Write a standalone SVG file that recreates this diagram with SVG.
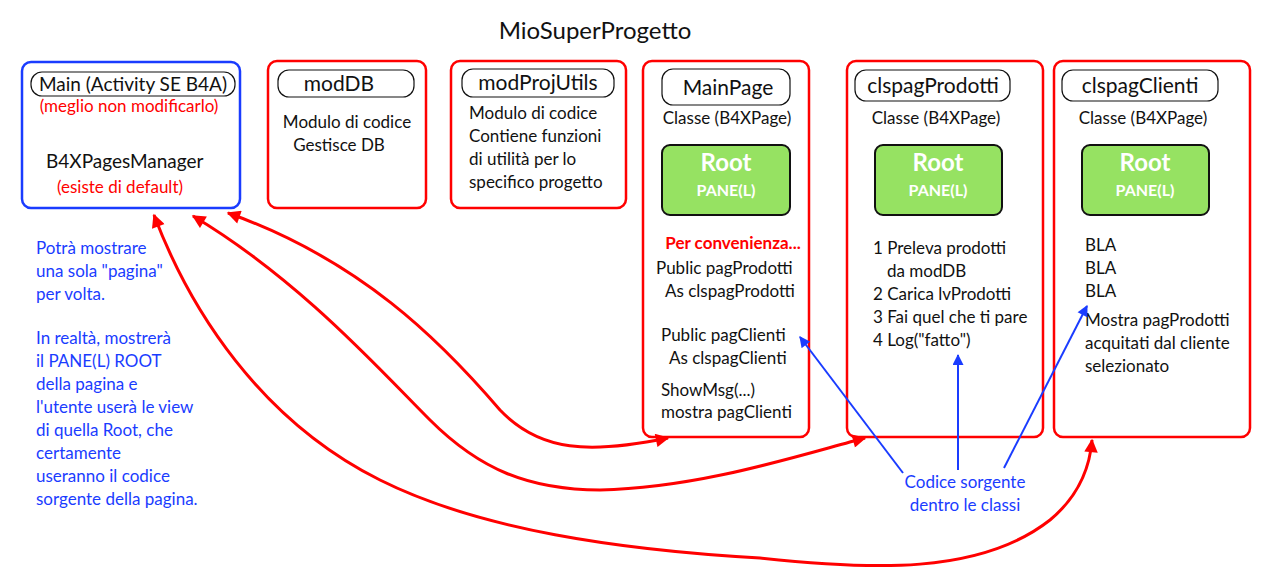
<svg xmlns="http://www.w3.org/2000/svg" width="1280" height="584" viewBox="0 0 1280 584">
<style>
text{font-family:Lato,"Liberation Sans",Arial,sans-serif;font-size:17px;fill:#111}
.box{fill:#fff;stroke:#f00;stroke-width:2.5}
.lab{fill:#fff;stroke:#111;stroke-width:1.2}
.green{fill:#96e262;stroke:#111;stroke-width:2}
.red{fill:#f00}
.blue{fill:#1a3cff}
.root{fill:#fff;font-weight:bold;font-size:24px}
.pane{fill:#fff;font-weight:bold;font-size:16px}
.c{text-anchor:middle}
.big{font-size:21px}
.ra{fill:none;stroke:#f00;stroke-width:3}
.ba{fill:none;stroke:#1a3cff;stroke-width:2}
</style>
<defs>
<marker id="rh" viewBox="0 0 10 10" refX="9" refY="5" markerWidth="5" markerHeight="4.5" orient="auto-start-reverse" markerUnits="strokeWidth"><path d="M0,0 L10,5 L0,10 z" fill="#f00"/></marker>
<marker id="bh" viewBox="0 0 10 10" refX="9" refY="5" markerWidth="6" markerHeight="5.5" orient="auto" markerUnits="strokeWidth"><path d="M0,0 L10,5 L0,10 z" fill="#1a3cff"/></marker>
</defs>
<rect width="1280" height="584" fill="#fff"/>
<text x="595" y="39" class="c" style="font-size:24px">MioSuperProgetto</text>

<g id="main">
<rect x="22" y="62" width="218" height="146" rx="9" fill="#fff" stroke="#1a3cff" stroke-width="2.5"/>
<rect x="31" y="72" width="204" height="24" rx="11" class="lab"/>
<text x="133" y="91" class="c" style="font-size:19px">Main (Activity SE B4A)</text>
<text x="129" y="112" class="c red">(meglio non modificarlo)</text>
<text x="46" y="168" style="font-size:19px">B4XPagesManager</text>
<text x="120" y="193" class="c red">(esiste di default)</text>
</g>

<g id="moddb">
<rect x="268" y="61" width="158" height="147" rx="9" class="box"/>
<rect x="278" y="70" width="136" height="27" rx="11" class="lab"/>
<text x="339" y="91" class="c big">modDB</text>
<text x="347" y="128" class="c">Modulo di codice</text>
<text x="339" y="151" class="c">Gestisce DB</text>
</g>

<g id="modprojutils">
<rect x="451" y="61" width="175" height="147" rx="9" class="box"/>
<rect x="462" y="69" width="152" height="28" rx="11" class="lab"/>
<text x="538" y="90" class="c big">modProjUtils</text>
<text x="469" y="119">Modulo di codice</text>
<text x="469" y="142">Contiene funzioni</text>
<text x="469" y="165">di utilità per lo</text>
<text x="469" y="188">specifico progetto</text>
</g>

<g id="mainpage">
<rect x="643" y="61" width="166" height="376" rx="9" class="box"/>
<rect x="662" y="69" width="128" height="36" rx="11" class="lab"/>
<text x="728" y="95" class="c big">MainPage</text>
<text x="727" y="124" class="c">Classe (B4XPage)</text>
<rect x="662" y="145" width="128" height="70" rx="8" class="green"/>
<text x="726" y="171" class="c root">Root</text>
<text x="726" y="196" class="c pane">PANE(L)</text>
<text x="733" y="249" class="c red" style="font-weight:bold">Per convenienza...</text>
<text x="656" y="274">Public pagProdotti</text>
<text x="665" y="297">As clspagProdotti</text>
<text x="661" y="341">Public pagClienti</text>
<text x="669" y="364">As clspagClienti</text>
<text x="661" y="396">ShowMsg(...)</text>
<text x="661" y="418">mostra pagClienti</text>
</g>

<g id="clspagprodotti">
<rect x="847" y="61" width="196" height="376" rx="9" class="box"/>
<rect x="855" y="70" width="155" height="31" rx="11" class="lab"/>
<text x="933" y="93" class="c big">clspagProdotti</text>
<text x="936" y="124" class="c">Classe (B4XPage)</text>
<rect x="875" y="145" width="127" height="70" rx="8" class="green"/>
<text x="938" y="171" class="c root">Root</text>
<text x="938" y="196" class="c pane">PANE(L)</text>
<text x="873" y="254">1 Preleva prodotti</text>
<text x="887" y="277">da modDB</text>
<text x="873" y="300">2 Carica lvProdotti</text>
<text x="873" y="323">3 Fai quel che ti pare</text>
<text x="873" y="346">4 Log("fatto")</text>
</g>

<g id="clspagclienti">
<rect x="1054" y="61" width="196" height="376" rx="9" class="box"/>
<rect x="1062" y="70" width="156" height="31" rx="11" class="lab"/>
<text x="1140" y="93" class="c big">clspagClienti</text>
<text x="1143" y="124" class="c">Classe (B4XPage)</text>
<rect x="1082" y="145" width="127" height="70" rx="8" class="green"/>
<text x="1145" y="171" class="c root">Root</text>
<text x="1145" y="196" class="c pane">PANE(L)</text>
<text x="1085" y="251">BLA</text>
<text x="1085" y="274">BLA</text>
<text x="1085" y="297">BLA</text>
<text x="1085" y="326">Mostra pagProdotti</text>
<text x="1085" y="349">acquitati dal cliente</text>
<text x="1085" y="372">selezionato</text>
</g>

<g id="note">
<text x="36" y="254" class="blue">Potrà mostrare</text>
<text x="36" y="277" class="blue">una sola "pagina"</text>
<text x="36" y="300" class="blue">per volta.</text>
<text x="36" y="344" class="blue">In realtà, mostrerà</text>
<text x="36" y="367" class="blue">il PANE(L) ROOT</text>
<text x="36" y="390" class="blue">della pagina e</text>
<text x="36" y="413" class="blue">l'utente userà le view</text>
<text x="36" y="436" class="blue">di quella Root, che</text>
<text x="36" y="459" class="blue">certamente</text>
<text x="36" y="482" class="blue">useranno il codice</text>
<text x="36" y="505" class="blue">sorgente della pagina.</text>
</g>

<g id="codice">
<text x="965" y="488" class="c blue">Codice sorgente</text>
<text x="965" y="511" class="c blue">dentro le classi</text>
</g>

<g id="connectors">
<path class="ra" marker-start="url(#rh)" marker-end="url(#rh)" d="M228,213 C360,260 440,340 500,410 C540,452 590,454 668,438"/>
<path class="ra" marker-start="url(#rh)" marker-end="url(#rh)" d="M193,216 C300,280 380,370 430,420 C480,470 530,490 600,490 C700,488 800,455 865,438"/>
<path class="ra" marker-start="url(#rh)" marker-end="url(#rh)" d="M154,215 C190,310 260,420 380,480 C480,530 620,550 760,558 C870,570 980,575 1050,520 C1080,495 1090,465 1092,440"/>
<path class="ba" marker-end="url(#bh)" d="M903,473 L800,337"/>
<path class="ba" marker-end="url(#bh)" d="M958,470 L958,355"/>
<path class="ba" marker-end="url(#bh)" d="M1004,468 L1087,306"/>
</g>
</svg>
